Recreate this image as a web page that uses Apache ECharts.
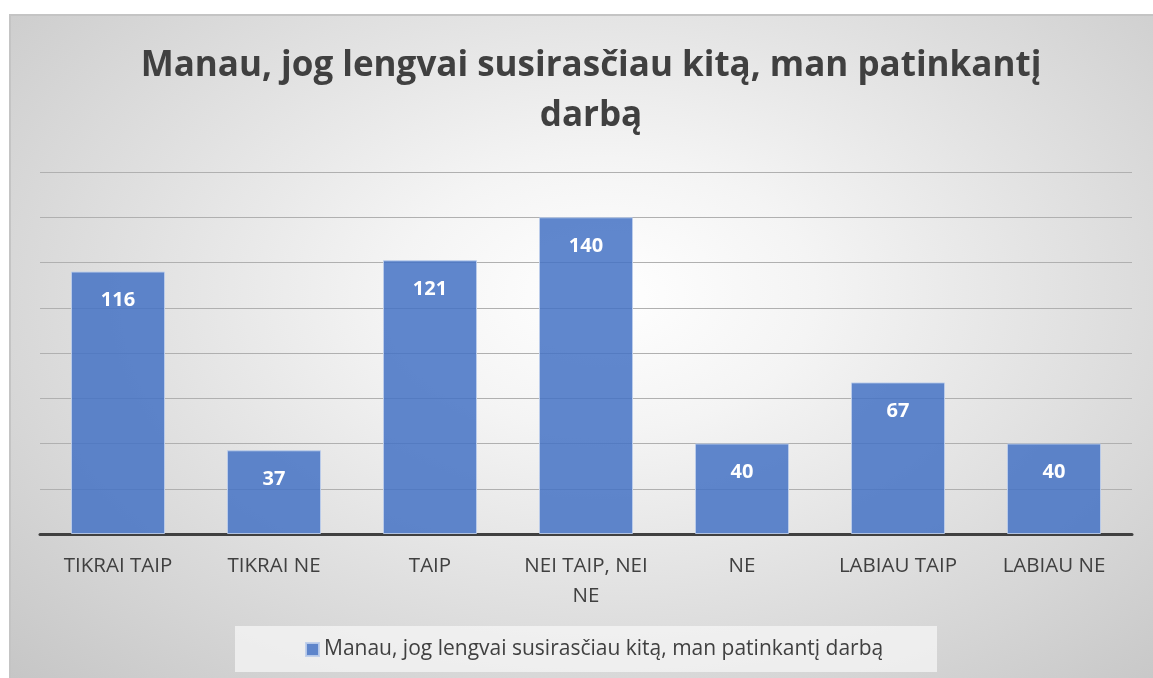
<!DOCTYPE html>
<html>
<head>
<meta charset="utf-8">
<script src="https://cdn.jsdelivr.net/npm/echarts@6/dist/echarts.min.js"></script>
<style>
	html,body{margin:0;padding:0;background:#fff;}
	#bg{position:absolute;left:9px;top:14px;width:1144px;height:664px;
		border-top:2px solid #c4c4c4;border-left:2px solid #c4c4c4;box-sizing:border-box;
		background:radial-gradient(ellipse farthest-corner at 52% 42%, #ffffff 0%, #f4f4f4 25%, #c6c6c6 100%);}
	#main{position:absolute;left:0;top:0;width:1153px;height:678px;}
</style>
</head>
<body>
<div id="bg"></div>
<div id="main"></div>
<script>
//数据
var categories = ['TIKRAI TAIP', 'TIKRAI NE', 'TAIP', 'NEI TAIP, NEI\nNE', 'NE', 'LABIAU TAIP', 'LABIAU NE'];
var values = [116, 37, 121, 140, 40, 67, 40];
var seriesName = 'Manau, jog lengvai susirasčiau kitą, man patinkantį darbą';
var titleText = 'Manau, jog lengvai susirasčiau kitą, man patinkantį\ndarbą';

var font = 'Open Sans';
var option = {
	textStyle: {fontFamily: font},
	title: {
		text: titleText,
		left: 586,
		top: 36,
		textAlign: 'center',
		textStyle: {
			fontFamily: font,
			fontSize: 35,
			fontWeight: 'bold',
			color: '#404040',
			lineHeight: 50
		}
	},
	graphic: [{//图例背景框
		type: 'rect',
		shape: {x: 235, y: 626, width: 702, height: 46},
		style: {fill: 'rgba(246,246,246,0.75)'},
		z: 0
	}],
	legend: {
		data: [seriesName],
		left: 300,
		top: 634,
		icon: 'rect',
		itemWidth: 13,
		itemHeight: 13,
		textStyle: {fontFamily: font, fontSize: 21, color: '#404040'}
	},
	grid: {
		left: 40,
		right: 21,
		top: 172,
		bottom: 144
	},
	xAxis: {
		type: 'category',
		data: categories,
		axisLine: {lineStyle: {color: '#404040', width: 3}},
		axisTick: {show: false},
		axisLabel: {
			interval: 0,
			margin: 17,
			fontFamily: font,
			fontSize: 20.5,
			lineHeight: 30,
			color: '#404040'
		}
	},
	yAxis: {
		type: 'value',
		min: 0,
		max: 160,
		interval: 20,
		axisLabel: {show: false},
		axisLine: {show: false},
		axisTick: {show: false},
		splitLine: {lineStyle: {color: '#b0b0b0', width: 1}}
	},
	series: [{
		name: seriesName,
		type: 'bar',
		data: values,
		barWidth: 94,
		itemStyle: {
			color: 'rgba(68,114,196,0.85)',
			borderColor: 'rgba(190,206,235,0.9)',
			borderWidth: 1
		},
		label: {
			show: true,
			position: 'insideTop',
			distance: 19,
			fontFamily: font,
			fontSize: 20,
			fontWeight: 'bold',
			color: '#ffffff'
		}
	}]
};
var myChart = echarts.init(document.getElementById('main'));
myChart.setOption(option);
</script>
</body>
</html>
